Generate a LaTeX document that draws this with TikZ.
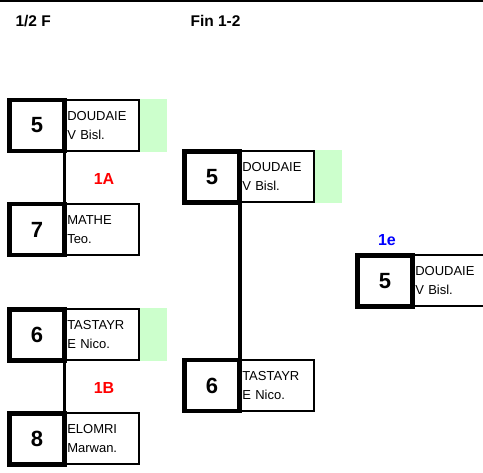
\documentclass[tikz,border=0pt]{standalone}
\usepackage{fontspec}
\setmainfont{Liberation Sans}
\usepackage{xcolor}
\usetikzlibrary{positioning}
\definecolor{wingreen}{HTML}{CCFFCC}
\definecolor{labelred}{HTML}{FF0000}
\definecolor{labelblue}{HTML}{0000FF}

\begin{document}
\begin{tikzpicture}[x=1pt, y=-1pt,
    seed/.style={rectangle, draw, line width=4.5pt, outer sep=0pt, inner sep=0pt, minimum width=55pt, minimum height=51pt, font=\fontsize{22}{26}\selectfont\bfseries},
    player/.style={rectangle, draw, line width=2pt, text width=69.5pt, inner xsep=1.75pt, inner ysep=0pt, minimum height=51pt, align=left, font=\fontsize{13}{19}\selectfont},
    winner/.style={rectangle, fill=wingreen, inner sep=0pt, minimum width=27pt, minimum height=53pt},
    matchlabel/.style={anchor=base, font=\fontsize{16}{19}\selectfont\bfseries},
    roundtitle/.style={anchor=base west, font=\fontsize{15.5}{19}\selectfont\bfseries}]
    \useasboundingbox (0,0) rectangle (483,473);
    \draw[line width=1.5pt] (0,1) -- (483,1);
    \node[roundtitle] (title_semi) at (12,27) {1/2 F};
    \node[roundtitle] (title_final) at (187,27) {Fin 1-2};
    % semi-finals
    \node[seed] (a1_num) at (37,125.5) {5};
    \node[player, right=0pt of a1_num] (a1_name) {DOUDAIE\\V Bisl.};
    \node[winner, right=0pt of a1_name] (a1_win) {};
    \node[seed] (a2_num) at (37,229.5) {7};
    \node[player, right=0pt of a2_num] (a2_name) {MATHE\\Teo.};
    \node[seed] (b1_num) at (37,335) {6};
    \node[player, right=0pt of b1_num] (b1_name) {TASTAYR\\E Nico.};
    \node[winner, right=0pt of b1_name] (b1_win) {};
    \node[seed] (b2_num) at (37,439) {8};
    \node[player, right=0pt of b2_num] (b2_name) {ELOMRI\\Marwan.};
    \node[matchlabel, text=labelred] (label_a) at (104,185) {1A};
    \node[matchlabel, text=labelred] (label_b) at (104,394) {1B};
    % final
    \node[seed] (f1_num) at (212,177) {5};
    \node[player, right=0pt of f1_num] (f1_name) {DOUDAIE\\V Bisl.};
    \node[winner, right=0pt of f1_name] (f1_win) {};
    \node[seed] (f2_num) at (212,385.5) {6};
    \node[player, right=0pt of f2_num] (f2_name) {TASTAYR\\E Nico.};
    % first place
    \node[matchlabel, text=labelblue] (label_first) at (387,246) {1e};
    \node[seed] (w_num) at (385,281) {5};
    \node[player, right=0pt of w_num] (w_name) {DOUDAIE\\V Bisl.};
    \draw[line width=3.5pt] (a1_num.south east) -- (a2_num.north east);
    \draw[line width=3.5pt] (b1_num.south east) -- (b2_num.north east);
    \draw[line width=4pt] (f1_num.south east) -- (f2_num.north east);
\end{tikzpicture}
\end{document}
